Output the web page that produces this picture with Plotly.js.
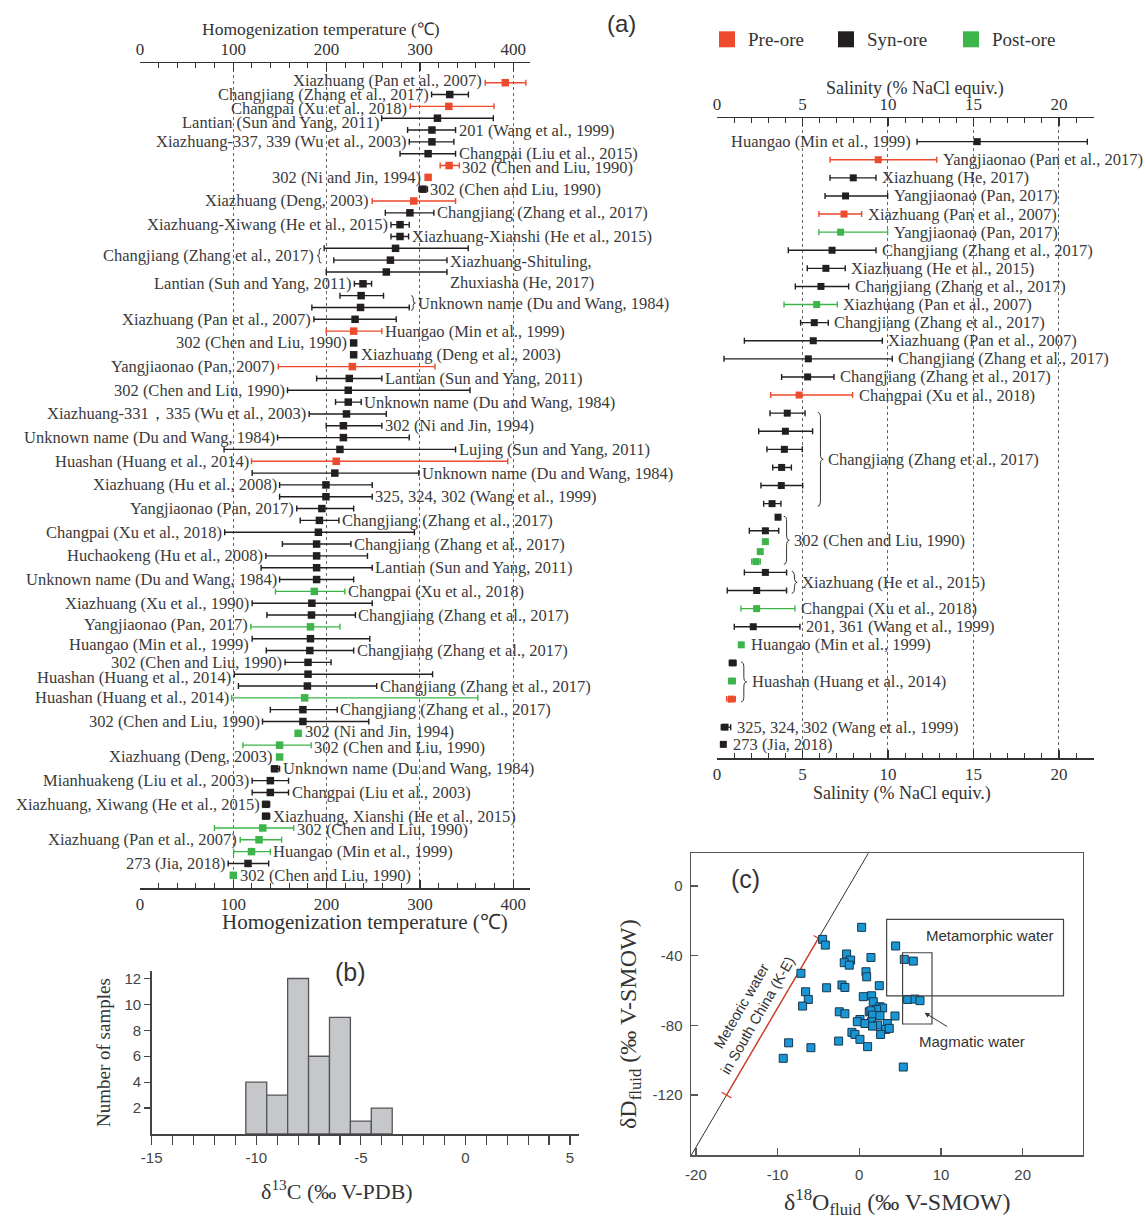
<!DOCTYPE html>
<html><head><meta charset="utf-8">
<script src="https://cdn.plot.ly/plotly-3.0.1.min.js"></script>
<style>html,body{margin:0;padding:0;background:#fff}#chart{width:1145px;height:1218px}</style>
</head><body><div id="chart"></div>
<script>
const W=1145,H=1218;
const PX=x=>x/W, PY=y=>1-y/H;
const SERIF='Liberation Serif, Times New Roman, serif';
const SANS='Liberation Sans, Arial, sans-serif';
const STAGE_COLOR={pre:'#ee4a2d', syn:'#231f20', post:'#3db54a'};
const STAGES=['pre','syn','post'];
const STAGE_NAMES={pre:'Pre-ore',syn:'Syn-ore',post:'Post-ore'};

// ---------- Panel (a) left: homogenization temperature (°C) ----------
const thLabel=['Xiazhuang (Pan et al., 2007)','Changjiang (Zhang et al., 2017)','Changpai (Xu et al., 2018)','Lantian (Sun and Yang, 2011)','201 (Wang et al., 1999)',
'Xiazhuang-337, 339 (Wu et al., 2003)','Changpai (Liu et al., 2015)','302 (Chen and Liu, 1990)','302 (Ni and Jin, 1994)','302 (Chen and Liu, 1990)',
'Xiazhuang (Deng, 2003)','Changjiang (Zhang et al., 2017)','Xiazhuang-Xiwang (He et al., 2015)','Xiazhuang-Xianshi (He et al., 2015)','',
'','Xiazhuang-Shituling,<br>Zhuxiasha (He, 2017)','Lantian (Sun and Yang, 2011)','','',
'Xiazhuang (Pan et al., 2007)','Huangao (Min et al., 1999)','302 (Chen and Liu, 1990)','Xiazhuang (Deng et al., 2003)','Yangjiaonao (Pan, 2007)',
'Lantian (Sun and Yang, 2011)','302 (Chen and Liu, 1990)','Unknown name (Du and Wang, 1984)','Xiazhuang-331，335 (Wu et al., 2003)','302 (Ni and Jin, 1994)',
'Unknown name (Du and Wang, 1984)','Lujing (Sun and Yang, 2011)','Huashan (Huang et al., 2014)','Unknown name (Du and Wang, 1984)','Xiazhuang (Hu et al., 2008)',
'325, 324, 302 (Wang et al., 1999)','Yangjiaonao (Pan, 2017)','Changjiang (Zhang et al., 2017)','Changpai (Xu et al., 2018)','Changjiang (Zhang et al., 2017)',
'Huchaokeng (Hu et al., 2008)','Lantian (Sun and Yang, 2011)','Unknown name (Du and Wang, 1984)','Changpai (Xu et al., 2018)','Xiazhuang (Xu et al., 1990)',
'Changjiang (Zhang et al., 2017)','Yangjiaonao (Pan, 2017)','Huangao (Min et al., 1999)','Changjiang (Zhang et al., 2017)','302 (Chen and Liu, 1990)',
'Huashan (Huang et al., 2014)','Changjiang (Zhang et al., 2017)','Huashan (Huang et al., 2014)','Changjiang (Zhang et al., 2017)','302 (Chen and Liu, 1990)',
'302 (Ni and Jin, 1994)','302 (Chen and Liu, 1990)','Xiazhuang (Deng, 2003)','Unknown name (Du and Wang, 1984)','Mianhuakeng (Liu et al., 2003)',
'Changpai (Liu et al., 2003)','Xiazhuang, Xiwang (He et al., 2015)','Xiazhuang, Xianshi (He et al., 2015)','302 (Chen and Liu, 1990)','Xiazhuang (Pan et al., 2007)',
'Huangao (Min et al., 1999)','273 (Jia, 2018)','302 (Chen and Liu, 1990)'];
const thSide=['L','L','L','L','R','L','R','R','L','R','L','R','L','R','',
'','R','L','','','L','R','L','R','L','R','L','R','L','R',
'L','R','L','R','L','R','L','R','L','R','L','R','L','R','L',
'R','L','L','R','L','L','R','L','R','L','R','R','L','R','L',
'R','L','R','R','L','R','L','R'];
const thStage=['pre','syn','pre','syn','syn','syn','syn','pre','pre','syn','pre','syn','syn','syn','syn',
'syn','syn','syn','syn','syn','syn','pre','syn','syn','pre','syn','syn','syn','syn','syn',
'syn','syn','pre','syn','syn','syn','syn','syn','syn','syn','syn','syn','syn','post','syn',
'syn','post','syn','syn','syn','syn','syn','post','syn','syn','post','post','post','syn','syn',
'syn','syn','syn','post','post','post','syn','post'];
const thMean=[391.5,332,331,318.8,312.9,312.9,308.8,331.3,308.8,303.3,293.4,289.3,278.7,278.7,273.9,
268.4,264,239,237,236.4,230.5,229,229,229,227.6,224.3,223.2,223.2,221.3,218,
218,214.3,210.3,208.8,199.3,199.3,194.9,192.3,191.2,189.3,189.3,189.3,189.3,186.8,184.2,
183.8,182.7,182.7,182,180.1,180.1,179.4,176.5,174.6,174.6,169.5,149.6,149.6,144.5,139.7,
139.7,134.9,134.9,131.6,127.6,119.5,115.8,100];
const thMin=[370,312.5,289.7,259,286.8,288.6,278.7,321.7,null,298.9,248.9,262.9,269,269,197.4,
207.7,199.6,229.8,214.3,184.2,186.4,199.6,null,null,148.2,189.3,158.1,209.6,181.3,199.6,
147.4,90.1,119.5,120.2,149.6,149.6,168,171.7,90.8,152.6,134.9,129.8,149.6,145.2,120.2,
136,118.8,120.2,135.3,155.5,101.1,105.5,98.2,139.7,131.3,null,110.3,null,140.8,120.2,
120.2,131.3,131.3,79.8,107.4,100.4,94.5,null];
const thMax=[413.6,352,379.4,378.7,338.2,336.4,338.2,342.3,null,308.1,338.2,315,288.6,287.9,351.8,
329,329,248.2,261,288.6,274.6,259.2,null,null,316.2,259.2,353.7,237.1,264,259.2,
288.6,338.2,394.1,298.9,248.9,248.9,229,213.2,294.1,226.1,243.8,248.9,229,219.5,248.9,
230.9,214.3,246.3,229,204.8,313.6,253.7,362.1,211.4,245.2,null,183.5,null,149.6,159.2,
159.2,139,139,164.7,151.8,139.7,137.9,null];
const thGroups=[{rows:[14,15],text:'Changjiang (Zhang et al., 2017)',side:'L'},
                {rows:[18,19],text:'Unknown name (Du and Wang, 1984)',side:'R'}];
const thTicks=[0,100,200,300,400];
// small vertical label nudges (screen px, down positive) to keep crowded labels readable
const thLabelNudge={0:-2,2:2.5,3:4,7:2,46:-2,47:6,50:3,55:-2,56:2,63:2};

// ---------- Panel (a) right: salinity (% NaCl equiv.) ----------
const salLabel=['Huangao (Min et al., 1999)','Yangjiaonao (Pan et al., 2017)','Xiazhuang (He, 2017)','Yangjiaonao (Pan, 2017)','Xiazhuang (Pan et al., 2007)',
'Yangjiaonao (Pan, 2017)','Changjiang (Zhang et al., 2017)','Xiazhuang (He et al., 2015)','Changjiang (Zhang et al., 2017)','Xiazhuang (Pan et al., 2007)',
'Changjiang (Zhang et al., 2017)','Xiazhuang (Pan et al., 2007)','Changjiang (Zhang et al., 2017)','Changjiang (Zhang et al., 2017)','Changpai (Xu et al., 2018)',
'','','','','','','','','','','','','',
'Changpai (Xu et al., 2018)','201, 361 (Wang et al., 1999)','Huangao (Min et al., 1999)','','','','325, 324, 302 (Wang et al., 1999)','273 (Jia, 2018)'];
const salSide=['L','R','R','R','R','R','R','R','R','R','R','R','R','R','R',
'','','','','','','','','','','','','',
'R','R','R','','','','R','R'];
const salStage=['syn','pre','syn','syn','pre','post','syn','syn','syn','post','syn','syn','syn','syn','pre',
'syn','syn','syn','syn','syn','syn','syn','syn','post','post','post','syn','syn',
'post','syn','post','syn','post','pre','syn','syn'];
const salMean=[15.22,9.43,7.97,7.52,7.43,7.23,6.73,6.37,6.08,5.83,5.69,5.63,5.34,5.3,4.8,
4.11,4.0,3.94,3.78,3.76,3.22,3.57,2.83,2.83,2.53,2.28,2.83,2.32,
2.32,2.12,1.42,0.92,0.88,0.84,0.47,0.37];
const salMin=[11.7,6.61,6.61,6.32,5.96,5.96,4.17,5.28,4.58,3.92,4.89,1.6,0.41,3.78,3.14,
3.1,2.44,2.92,3.26,2.57,2.73,null,1.89,null,null,2.03,1.6,0.6,
1.4,1.01,null,0.72,0.68,0.57,0.25,null];
const salMax=[21.66,12.85,9.3,9.98,8.46,9.98,9.3,7.5,7.7,7.04,6.51,9.67,10.25,6.84,7.93,
5.15,5.59,4.99,4.35,5.01,3.74,null,3.61,null,null,2.53,4.07,4.07,
4.56,4.85,null,1.11,1.07,1.07,0.8,null];
const salRow=[0,1,2,3,4,5,6,7,8,9,10,11,12,13,14,15,16,17,18,19,20,
20.75,21.5,22.1,22.65,23.2,23.8,24.8,25.8,26.8,27.8,28.8,29.8,30.8,32.35,33.3];
const salGroups=[{rows:[15,16,17,18,19,20],text:'Changjiang (Zhang et al., 2017)'},
                 {rows:[21,22,23,24,25],text:'302 (Chen and Liu, 1990)'},
                 {rows:[26,27],text:'Xiazhuang (He et al., 2015)'},
                 {rows:[31,32,33],text:'Huashan (Huang et al., 2014)'}];
const salTicks=[0,5,10,15,20];

// ---------- Panel (b): δ13C histogram ----------
const c13BinCenter=[-10,-9,-8,-7,-6,-5,-4];
const c13Count=[4,3,12,6,9,1,2];
const c13Ticks=[-15,-10,-5,0,5];
const c13TickText=['-15','-10','-5','0','5'];
const countTicks=[2,4,6,8,10,12];

// ---------- Panel (c): δ18O vs δD of fluids ----------
const d18O=[0.29,-4.49,-4.16,4.45,-1.55,1.43,-1.06,-1.84,-1.22,5.51,6.61,-7.14,0.82,0.9,-4.0,-2.12,-1.76,2.45,-6.57,0.49,
1.51,-6.24,5.92,6.82,7.43,1.71,-6.94,2.53,2.86,2.12,1.22,-2.45,1.43,-1.76,1.63,2.53,4.37,0.08,-0.24,1.51,
0.69,3.43,2.24,1.63,3.22,3.67,-0.9,-0.53,2.61,0.08,-2.53,-8.65,1.02,-5.92,-9.31,5.39];
const dD=[-23.7,-30.6,-33.9,-34.4,-39.0,-41.0,-42.5,-44.0,-45.4,-42.1,-43.1,-50.1,-49.2,-52.1,-58.4,-56.8,-58.2,-57.2,-60.7,-63.5,
-63.0,-65.1,-65.1,-64.9,-65.8,-66.4,-68.9,-69.3,-70.0,-70.8,-72.2,-72.2,-71.6,-73.3,-74.1,-74.4,-74.6,-76.6,-77.9,-77.9,
-78.9,-78.9,-79.8,-80.4,-82.3,-81.7,-84.0,-85.2,-85.2,-88.0,-89.0,-90.0,-92.2,-92.8,-98.9,-103.9];
const meteoricSlope=8, meteoricIntercept=10;       // δD = 8·δ18O + 10
const meteoricSouthChinaDD=[-120,-30];             // K-E meteoric water range (δD)
const metamorphicBox={x:[3.35,25.0], y:[-63.0,-19.1]};
const magmaticBox={x:[5.3,8.9], y:[-79.2,-38.3]};
const cXTicks=[-20,-10,0,10,20], cYTicks=[-120,-80,-40,0];

// ================= build =================
const traces=[], annotations=[], shapes=[];
const labelFont={family:SERIF,size:16.5,color:'#3a3a3a'};

function barTraces(mean,min,max,stage,ypos,xa,ya,msize){
  STAGES.forEach(s=>{
    const idx=mean.map((_,i)=>i).filter(i=>stage[i]===s);
    traces.push({type:'scatter',mode:'markers',xaxis:xa,yaxis:ya,name:STAGE_NAMES[s],
      x:idx.map(i=>mean[i]), y:idx.map(i=>ypos[i]),
      marker:{symbol:'square',size:msize,color:STAGE_COLOR[s],line:{width:0}},
      error_x:{type:'data',symmetric:false,
        array:idx.map(i=>max[i]==null?0:max[i]-mean[i]),
        arrayminus:idx.map(i=>min[i]==null?0:mean[i]-min[i]),
        color:STAGE_COLOR[s],thickness:1.4,width:3},
      hoverinfo:'skip',showlegend:false,cliponaxis:false});
  });
}
function rowLabels(label,side,mean,min,max,ypos,xref,yref,shBar,shPt,nudge){
  label.forEach((t,i)=>{
    if(!t) return;
    const bar=min[i]!=null;
    const L=side[i]==='L';
    annotations.push({xref,yref,x:L?(bar?min[i]:mean[i]):(bar?max[i]:mean[i]),y:ypos[i],
      text:t,showarrow:false,xanchor:L?'right':'left',yanchor:'middle',align:'left',
      xshift:(L?-1:1)*(bar?shBar:shPt),yshift:-((nudge&&nudge[i])||0),font:labelFont});
  });
}
function bracePath(x,y0,y1,w,r,dir){
  const xm=x+dir*w/2, xt=x+dir*w, m=(y0+y1)/2;
  return `M${x},${y0} Q${xm},${y0} ${xm},${y0+r} L${xm},${m-r} Q${xm},${m} ${xt},${m} `+
         `Q${xm},${m} ${xm},${m+r} L${xm},${y1-r} Q${xm},${y1} ${x},${y1}`;
}

// ---- Left (temperature) ----
const thRow=thMean.map((_,i)=>i);
barTraces(thMean,thMin,thMax,thStage,thRow,'x','y',7.5);
rowLabels(thLabel,thSide,thMean,thMin,thMax,thRow,'x','y',1,5,thLabelNudge);
thGroups.forEach(g=>{
  const ys=g.rows.map(i=>thRow[i]);
  const y0=Math.min(...ys), y1=Math.max(...ys)+0.25, ym=(y0+y1)/2;
  const w=4.5;
  if(g.side==='L'){
    const x=Math.min(...g.rows.map(i=>thMin[i]))-3;
    shapes.push({type:'path',xref:'x',yref:'y',path:bracePath(x,y0,y1,w,0.22,-1),line:{color:'#333',width:1}});
    annotations.push({xref:'x',yref:'y',x:x-w,y:ym,text:g.text,showarrow:false,xanchor:'right',xshift:-1,font:labelFont});
  } else {
    const x=Math.max(...g.rows.map(i=>thMax[i]))+2;
    shapes.push({type:'path',xref:'x',yref:'y',path:bracePath(x,y0,y1,w,0.22,1),line:{color:'#333',width:1}});
    annotations.push({xref:'x',yref:'y',x:x+w,y:ym,text:g.text,showarrow:false,xanchor:'left',xshift:1,font:labelFont});
  }
});

// ---- Right (salinity) ----
barTraces(salMean,salMin,salMax,salStage,salRow,'x3','y3',7);
rowLabels(salLabel,salSide,salMean,salMin,salMax,salRow,'x3','y3',4,8,null);
salGroups.forEach(g=>{
  const ys=g.rows.map(i=>salRow[i]);
  const y0=Math.min(...ys)-0.05, y1=Math.max(...ys)+0.15;
  const x=Math.max(...g.rows.map(i=>salMax[i]!=null?salMax[i]:salMean[i]))+0.3;
  const w=0.32;
  shapes.push({type:'path',xref:'x3',yref:'y3',path:bracePath(x,y0,y1,w,0.3,1),line:{color:'#333',width:1}});
  annotations.push({xref:'x3',yref:'y3',x:x+w,y:(y0+y1)/2,text:g.text,showarrow:false,xanchor:'left',xshift:3,font:labelFont});
});

// dummy traces so the top axes are drawn
traces.push({type:'scatter',mode:'markers',x:[0],y:[0],xaxis:'x2',yaxis:'y',marker:{opacity:0},hoverinfo:'skip',showlegend:false});
traces.push({type:'scatter',mode:'markers',x:[0],y:[0],xaxis:'x4',yaxis:'y3',marker:{opacity:0},hoverinfo:'skip',showlegend:false});

// ---- Panel (b) ----
traces.push({type:'bar',x:c13BinCenter,y:c13Count,width:1,xaxis:'x5',yaxis:'y5',
  marker:{color:'#c6c7ca',line:{color:'#555',width:1.3}},hoverinfo:'skip',showlegend:false});

// ---- Panel (c) ----
const mwlX=[-22,3];
traces.push({type:'scatter',mode:'lines',x:mwlX,y:mwlX.map(v=>meteoricSlope*v+meteoricIntercept),
  xaxis:'x6',yaxis:'y6',line:{color:'#333',width:1},hoverinfo:'skip',showlegend:false});
const scX=meteoricSouthChinaDD.map(v=>(v-meteoricIntercept)/meteoricSlope);
traces.push({type:'scatter',mode:'lines+markers',x:scX,y:meteoricSouthChinaDD,xaxis:'x6',yaxis:'y6',
  line:{color:'#d9452e',width:1.4},marker:{symbol:'line-ns',size:8,angle:120,line:{color:'#d9452e',width:1.3}},
  hoverinfo:'skip',showlegend:false});
traces.push({type:'scatter',mode:'markers',x:d18O,y:dD,xaxis:'x6',yaxis:'y6',
  marker:{symbol:'square',size:8,color:'#1a96d4',line:{color:'#15374f',width:1}},hoverinfo:'skip',showlegend:false});
[metamorphicBox,magmaticBox].forEach(b=>shapes.push({type:'rect',xref:'x6',yref:'y6',x0:b.x[0],x1:b.x[1],y0:b.y[0],y1:b.y[1],
  line:{color:'#444',width:1.2},fillcolor:'rgba(0,0,0,0)'}));
const cFont={family:SANS,size:15,color:'#333'};
annotations.push({xref:'x6',yref:'y6',x:metamorphicBox.x[0]+4.6,y:metamorphicBox.y[1]-9,text:'Metamorphic water',showarrow:false,xanchor:'left',font:cFont});
annotations.push({xref:'x6',yref:'y6',x:8.0,y:-72.7,ax:13.8,ay:-89.4,axref:'x6',ayref:'y6',text:'Magmatic water',
  showarrow:true,arrowhead:2,arrowsize:1,arrowwidth:1,arrowcolor:'#333',standoff:0,startstandoff:10,font:cFont});
annotations.push({xref:'x6',yref:'y6',x:-13.4,y:-71.5,text:'Meteoric water<br>in South China (K-E)',showarrow:false,
  textangle:-60,font:{family:SANS,size:14.5,color:'#333'},align:'center'});

// ---- text: titles, panel letters, legend ----
const T=(x,y,text,font,extra)=>annotations.push(Object.assign({xref:'paper',yref:'paper',x:PX(x),y:PY(y),text,showarrow:false,
  xanchor:'center',yanchor:'middle',font},extra||{}));
T(321,29,'Homogenization temperature (℃)',{family:SERIF,size:17.5,color:'#333'});
T(365,922,'Homogenization temperature (℃)',{family:SERIF,size:21,color:'#333'});
T(915,88,'Salinity (% NaCl equiv.)',{family:SERIF,size:18,color:'#333'});
T(902,793,'Salinity (% NaCl equiv.)',{family:SERIF,size:18,color:'#333'});
T(621,24,'(a)',{family:SANS,size:24,color:'#333'});
T(350,972,'(b)',{family:SANS,size:25,color:'#333'});
T(745,879,'(c)',{family:SANS,size:25,color:'#333'});
T(337,1190,'δ<sup>13</sup>C (‰ V-PDB)',{family:SERIF,size:22,color:'#333'});
T(103,1052,'Number of samples',{family:SERIF,size:19,color:'#333'},{textangle:-90});
T(897,1202,'δ<sup>18</sup>O<sub>fluid</sub> (‰ V-SMOW)',{family:SERIF,size:24,color:'#333'});
T(630,1024,'δD<sub>fluid</sub> (‰ V-SMOW)',{family:SERIF,size:24,color:'#333'},{textangle:-90});
const legendPos={pre:727,syn:846,post:971};
STAGES.forEach(s=>{
  const cx=legendPos[s];
  shapes.push({type:'rect',xref:'paper',yref:'paper',x0:PX(cx-8),x1:PX(cx+8),y0:PY(47.3),y1:PY(31.3),
    fillcolor:STAGE_COLOR[s],line:{width:0}});
  T(cx+19,39.3,STAGE_NAMES[s],{family:SERIF,size:19,color:'#333'},{xanchor:'left'});
});

// ---- axes ----
const axLine={showline:true,linecolor:'#333',linewidth:1.5,zeroline:false,fixedrange:true};
const tempAx=Object.assign({},axLine,{range:[0,418],tickvals:thTicks,ticks:'inside',ticklen:8,tickwidth:1.2,tickcolor:'#333',
  minor:{tickmode:'linear',tick0:0,dtick:20,ticks:'inside',ticklen:5,tickwidth:1,tickcolor:'#333',showgrid:false},
  tickfont:{family:SERIF,size:17,color:'#333'}});
const salAx=Object.assign({},axLine,{range:[0,22.05],tickvals:salTicks,ticks:'inside',ticklen:8,tickwidth:1.2,tickcolor:'#333',
  minor:{tickmode:'linear',tick0:0,dtick:1,ticks:'inside',ticklen:5,tickwidth:1,tickcolor:'#333',showgrid:false},
  tickfont:{family:SERIF,size:17,color:'#333'}});
const gridDot={showgrid:true,gridcolor:'#666',griddash:'dot',gridwidth:1};

const layout={
  width:W,height:H,margin:{l:0,r:0,t:0,b:0,pad:0},showlegend:false,
  paper_bgcolor:'#fff',plot_bgcolor:'rgba(0,0,0,0)',font:{family:SERIF,size:15,color:'#333'},
  xaxis:Object.assign({},tempAx,gridDot,{domain:[PX(140),PX(530)],anchor:'y',side:'bottom'}),
  xaxis2:Object.assign({},tempAx,{overlaying:'x',anchor:'y',side:'top',showgrid:false}),
  yaxis:{domain:[PY(888.3),PY(63.3)],range:[68.1,-1.64],visible:false,fixedrange:true},
  xaxis3:Object.assign({},salAx,gridDot,{domain:[PX(717),PX(1094)],anchor:'y3',side:'bottom'}),
  xaxis4:Object.assign({},salAx,{overlaying:'x3',anchor:'y3',side:'top',showgrid:false}),
  yaxis3:{domain:[PY(758.3),PY(118.3)],range:[34.07,-1.29],visible:false,fixedrange:true},
  xaxis5:{domain:[PX(151.7),PX(579)],anchor:'y5',range:[-15,5.43],showline:true,linecolor:'#444',linewidth:1.5,
    tickvals:c13Ticks,ticktext:c13TickText,ticks:'outside',ticklen:9,tickwidth:1.2,tickcolor:'#444',
    minor:{tickmode:'linear',tick0:0,dtick:1,ticks:'outside',ticklen:9,tickwidth:1.2,tickcolor:'#444',showgrid:false},
    showgrid:false,zeroline:false,tickfont:{family:SANS,size:15,color:'#444'},fixedrange:true},
  yaxis5:{domain:[PY(1134),PY(970.7)],anchor:'x5',range:[0,12.6],showline:true,linecolor:'#444',linewidth:1.5,
    tickvals:countTicks,ticks:'outside',ticklen:6,tickwidth:1.2,tickcolor:'#444',showgrid:false,zeroline:false,
    tickfont:{family:SANS,size:15,color:'#444'},fixedrange:true},
  xaxis6:{domain:[PX(691),PX(1082.7)],anchor:'y6',range:[-20.6,27.35],showline:true,mirror:true,linecolor:'#555',linewidth:1.5,
    tickvals:cXTicks,ticktext:cXTicks.map(String),ticks:'inside',ticklen:7,tickwidth:1.2,tickcolor:'#555',ticklabelstandoff:5,
    showgrid:false,zeroline:false,tickfont:{family:SANS,size:15,color:'#444'},fixedrange:true},
  yaxis6:{domain:[PY(1155),PY(853.3)],anchor:'x6',range:[-154.4,18.8],showline:true,mirror:true,linecolor:'#555',linewidth:1.5,
    tickvals:cYTicks,ticktext:cYTicks.map(String),ticks:'inside',ticklen:7,tickwidth:1.2,tickcolor:'#555',ticklabelstandoff:4,
    showgrid:false,zeroline:false,tickfont:{family:SANS,size:15,color:'#444'},fixedrange:true},
  annotations,shapes
};
Plotly.newPlot('chart',traces,layout,{staticPlot:true,displayModeBar:false});
</script></body></html>
